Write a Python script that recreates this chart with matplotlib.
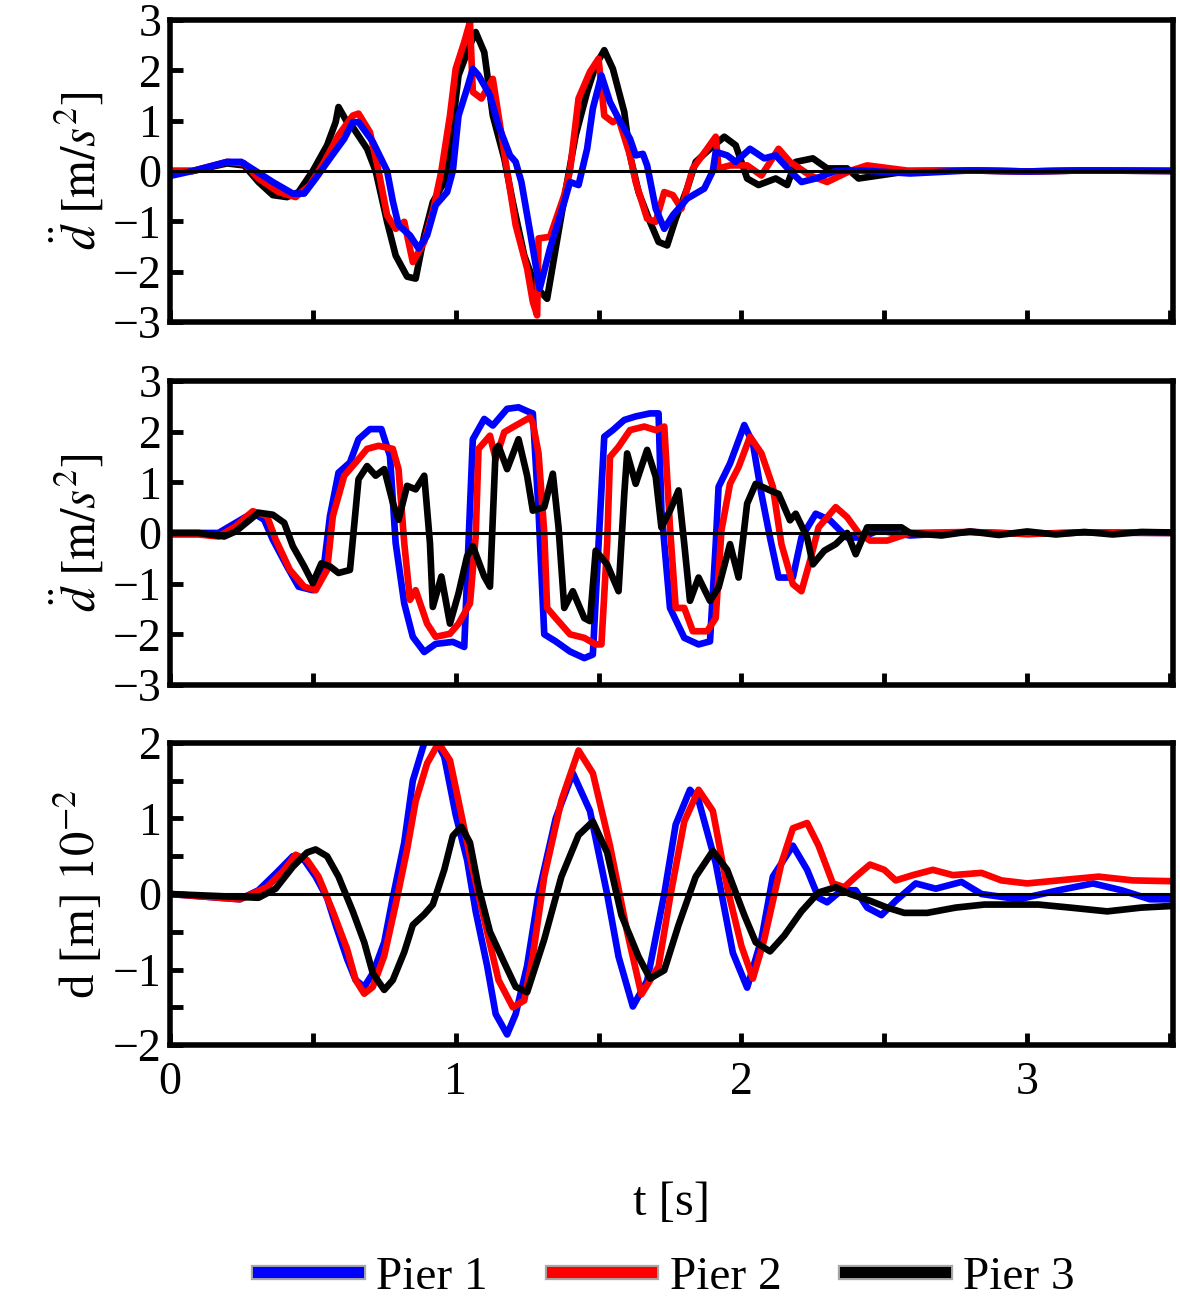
import matplotlib
matplotlib.use("Agg")
import matplotlib.pyplot as plt
import matplotlib.patheffects as pe
from matplotlib.lines import Line2D

plt.rcParams['font.family'] = ['Liberation Serif', 'DejaVu Serif']
plt.rcParams['mathtext.fontset'] = 'stix'

# ---- panel 1: acceleration (top) ----
top_t1 = [0, 0.08, 0.2, 0.25, 0.30, 0.36, 0.43, 0.47, 0.51, 0.56, 0.61, 0.64, 0.66, 0.71, 0.76, 0.78,
          0.80, 0.84, 0.87, 0.90, 0.93, 0.97, 0.99, 1.01, 1.04, 1.06, 1.08, 1.12, 1.15, 1.19, 1.21, 1.23,
          1.26, 1.294, 1.33, 1.38, 1.40, 1.43, 1.46, 1.48, 1.51, 1.54, 1.57, 1.61, 1.63, 1.655, 1.67,
          1.70, 1.73, 1.76, 1.81, 1.87, 1.90, 1.91, 1.95, 1.98, 2.03, 2.08, 2.12, 2.17, 2.21, 2.26, 2.33,
          2.42, 2.59, 2.8, 3.0, 3.2, 3.5]
top_v1 = [-0.1, 0, 0.18, 0.18, 0, -0.22, -0.45, -0.45, -0.15, 0.25, 0.64, 0.97, 0.97, 0.58, 0, -0.6,
          -1.08, -1.28, -1.54, -1.28, -0.68, -0.42, 0, 1.1, 1.64, 2.03, 1.9, 1.5, 0.9, 0.31, 0.18, -0.22,
          -1.2, -2.34, -1.54, -0.62, -0.22, -0.28, 0.44, 1.24, 1.9, 1.37, 1.04, 0.64, 0.31, 0.34, 0.11,
          -0.75, -1.15, -0.88, -0.55, -0.35, 0, 0.38, 0.31, 0.18, 0.44, 0.25, 0.31, 0, -0.22, -0.15, 0,
          0.01, -0.05, 0.01, -0.01, 0.01, 0]

top_t2 = [0, 0.08, 0.2, 0.26, 0.31, 0.38, 0.44, 0.49, 0.54, 0.59, 0.64, 0.66, 0.70, 0.73, 0.76, 0.79,
          0.82, 0.85, 0.89, 0.92, 0.95, 0.98, 1.00, 1.03, 1.05, 1.06, 1.09, 1.13, 1.15, 1.18, 1.21, 1.25,
          1.27, 1.285, 1.29, 1.33, 1.38, 1.40, 1.43, 1.47, 1.50, 1.52, 1.55, 1.57, 1.61, 1.63, 1.67, 1.70,
          1.73, 1.76, 1.79, 1.83, 1.88, 1.91, 1.92, 1.96, 2.02, 2.07, 2.13, 2.17, 2.24, 2.30, 2.38, 2.44,
          2.59, 2.8, 3.0, 3.2, 3.5]
top_v2 = [0, 0, 0.18, 0.15, -0.15, -0.42, -0.52, -0.28, 0.18, 0.71, 1.1, 1.14, 0.77, 0, -0.88, -1.15,
          -1.01, -1.81, -1.41, -0.81, 0, 1.1, 2.03, 2.56, 2.96, 1.57, 1.44, 1.83, 1.1, 0, -1.08, -1.94,
          -2.6, -2.87, -1.34, -1.31, -0.48, 0, 1.44, 1.97, 2.23, 1.1, 0.97, 1.04, 0.31, -0.22, -0.95, -1.01,
          -0.42, -0.48, -0.75, 0.05, 0.44, 0.68, 0.05, 0.11, 0.11, -0.09, 0.44, 0.18, -0.09, -0.22, 0, 0.11,
          0, 0.01, -0.01, 0.01, 0]

top_t3 = [0, 0.08, 0.2, 0.26, 0.31, 0.36, 0.41, 0.45, 0.50, 0.55, 0.58, 0.59, 0.62, 0.64, 0.69, 0.72,
          0.76, 0.79, 0.83, 0.86, 0.89, 0.92, 0.96, 0.98, 1.01, 1.05, 1.07, 1.10, 1.13, 1.17, 1.20, 1.24,
          1.28, 1.32, 1.35, 1.39, 1.42, 1.46, 1.49, 1.52, 1.55, 1.59, 1.61, 1.64, 1.68, 1.71, 1.74, 1.77,
          1.81, 1.84, 1.89, 1.94, 1.98, 2.02, 2.06, 2.12, 2.16, 2.19, 2.25, 2.30, 2.37, 2.41, 2.59, 2.8,
          3.0, 3.2, 3.5]
top_v3 = [0, 0, 0.15, 0.11, -0.22, -0.48, -0.52, -0.42, 0, 0.51, 0.97, 1.27, 0.97, 0.87, 0.44, 0,
          -1.01, -1.68, -2.1, -2.14, -1.28, -0.62, -0.22, 0.44, 1.9, 2.5, 2.76, 2.36, 1.1, 0.25, -0.62, -1.68,
          -2.3, -2.54, -1.54, -0.22, 0.71, 1.57, 2.1, 2.4, 2.03, 1.17, 0.31, -0.42, -1.01, -1.41, -1.48, -0.95,
          -0.35, 0.18, 0.44, 0.68, 0.51, -0.15, -0.28, -0.15, -0.28, 0.18, 0.25, 0.05, 0.05, -0.15, 0, 0.01,
          -0.01, 0.01, 0]

# ---- panel 2: acceleration (middle) ----
mid_t1 = [0, 0.10, 0.17, 0.23, 0.29, 0.33, 0.36, 0.41, 0.45, 0.50, 0.54, 0.56, 0.59, 0.63, 0.66, 0.70,
          0.74, 0.77, 0.79, 0.82, 0.85, 0.89, 0.93, 0.99, 1.03, 1.04, 1.06, 1.10, 1.13, 1.18, 1.22, 1.26,
          1.27, 1.29, 1.31, 1.35, 1.40, 1.45, 1.48, 1.50, 1.52, 1.55, 1.59, 1.63, 1.68, 1.71, 1.72, 1.75,
          1.80, 1.85, 1.89, 1.91, 1.92, 1.96, 2.01, 2.04, 2.07, 2.10, 2.13, 2.18, 2.21, 2.26, 2.31, 2.37,
          2.42, 2.48, 2.59, 2.8, 3.0, 3.2, 3.5]
mid_v1 = [0, 0, 0, 0.2, 0.4, 0.26, -0.13, -0.66, -1.06, -1.13, -0.6, 0.33, 1.19, 1.39, 1.85, 2.05,
          2.05, 1.52, -0.2, -1.39, -2.05, -2.35, -2.19, -2.15, -2.25, -0.86, 1.85, 2.25, 2.12, 2.45, 2.48, 2.38,
          2.36, 0.44, -2.0, -2.14, -2.34, -2.47, -2.4, -0.22, 1.9, 2.03, 2.23, 2.3, 2.36, 2.36, 0.44, -1.48,
          -2.07, -2.2, -2.14, -0.22, 0.91, 1.37, 2.13, 1.77, 0.77, -0.09, -0.88, -0.88, -0.09, 0.38, 0.25, -0.09,
          -0.09, 0.05, -0.05, 0.02, -0.02, 0.01, 0]

mid_t2 = [0, 0.10, 0.17, 0.23, 0.29, 0.34, 0.37, 0.42, 0.47, 0.51, 0.55, 0.57, 0.61, 0.65, 0.69, 0.73,
          0.78, 0.80, 0.82, 0.84, 0.86, 0.90, 0.93, 0.98, 1.01, 1.05, 1.07, 1.08, 1.12, 1.14, 1.17, 1.21,
          1.26, 1.27, 1.29, 1.31, 1.32, 1.35, 1.40, 1.45, 1.49, 1.51, 1.53, 1.54, 1.57, 1.61, 1.66, 1.70,
          1.73, 1.75, 1.77, 1.80, 1.83, 1.88, 1.91, 1.93, 1.96, 1.99, 2.03, 2.07, 2.11, 2.14, 2.18, 2.21,
          2.24, 2.27, 2.33, 2.37, 2.41, 2.45, 2.51, 2.59, 2.8, 3.0, 3.2, 3.5]
mid_v2 = [-0.03, -0.03, -0.07, 0.13, 0.43, 0.33, -0.13, -0.73, -1.06, -1.13, -0.73, 0.33, 1.13, 1.39, 1.66, 1.72,
          1.66, 1.26, -0.2, -1.32, -1.13, -1.79, -2.05, -1.99, -1.79, -1.39, -0.07, 1.66, 1.92, 1.46, 1.99, 2.12,
          2.28, 2.17, 1.57, 0, -1.48, -1.68, -2.0, -2.07, -2.2, -2.2, -0.22, 1.5, 1.7, 2.03, 2.1, 2.03,
          2.1, 0.11, -1.48, -1.48, -1.94, -1.94, -1.68, 0.05, 0.97, 1.3, 1.9, 1.57, 0.91, -0.22, -1.01, -1.15,
          -0.55, 0.11, 0.51, 0.31, 0, -0.15, -0.15, 0, 0.02, -0.02, 0.01, 0]

mid_t3 = [0, 0.10, 0.19, 0.23, 0.28, 0.31, 0.36, 0.40, 0.43, 0.47, 0.50, 0.53, 0.56, 0.59, 0.63, 0.65,
          0.66, 0.69, 0.72, 0.75, 0.78, 0.80, 0.83, 0.86, 0.89, 0.91, 0.92, 0.95, 0.98, 1.01, 1.04, 1.06,
          1.10, 1.12, 1.14, 1.15, 1.18, 1.22, 1.25, 1.27, 1.31, 1.34, 1.36, 1.38, 1.41, 1.45, 1.47, 1.49,
          1.53, 1.57, 1.59, 1.60, 1.63, 1.67, 1.70, 1.72, 1.75, 1.78, 1.80, 1.82, 1.85, 1.89, 1.92, 1.96,
          1.99, 2.02, 2.05, 2.10, 2.13, 2.17, 2.19, 2.23, 2.25, 2.29, 2.33, 2.37, 2.40, 2.44, 2.50, 2.56,
          2.59, 2.7, 2.8, 2.9, 3.0, 3.1, 3.2, 3.3, 3.4, 3.5]
mid_v3 = [0, 0, -0.07, 0.03, 0.26, 0.4, 0.36, 0.2, -0.26, -0.66, -0.99, -0.6, -0.66, -0.79, -0.73, 0.46,
          1.06, 1.32, 1.13, 1.26, 0.6, 0.26, 0.93, 0.86, 1.13, -0.2, -1.46, -0.86, -1.79, -1.19, -0.46, -0.26,
          -0.86, -1.06, 1.66, 1.72, 1.26, 1.85, 1.13, 0.44, 0.51, 1.17, 0.11, -1.48, -1.15, -1.68, -1.74, -0.35,
          -0.62, -1.15, 0.77, 1.57, 0.97, 1.64, 1.11, 0.11, 0.44, 0.84, -0.22, -1.34, -0.88, -1.34, -1.08, -0.22,
          -0.88, 0.58, 0.97, 0.84, 0.77, 0.25, 0.38, -0.09, -0.62, -0.35, -0.22, 0, -0.42, 0.11, 0.11, 0.11,
          0, -0.05, 0.03, -0.04, 0.03, -0.03, 0.02, -0.03, 0.02, 0.01]

# ---- panel 3: displacement (bottom), units 1e-2 m ----
bot_t1 = [0, 0.245, 0.31, 0.37, 0.43, 0.47, 0.51, 0.55, 0.58, 0.62, 0.65, 0.68, 0.71, 0.75, 0.78, 0.82,
          0.85, 0.89, 0.92, 0.96, 1.00, 1.04, 1.07, 1.11, 1.14, 1.18, 1.21, 1.25, 1.29, 1.35, 1.41, 1.47,
          1.53, 1.57, 1.62, 1.67, 1.73, 1.77, 1.82, 1.85, 1.91, 1.97, 2.02, 2.07, 2.11, 2.18, 2.23, 2.27,
          2.30, 2.35, 2.40, 2.44, 2.49, 2.54, 2.61, 2.68, 2.77, 2.84, 2.97, 3.11, 3.23, 3.33, 3.43, 3.5]
bot_v1 = [0, -0.07, 0.05, 0.27, 0.5, 0.45, 0.23, -0.05, -0.41, -0.86, -1.14, -1.23, -1.05, -0.64, -0.05, 0.68,
          1.5, 2.0, 2.1, 1.82, 1.05, 0.45, -0.23, -0.95, -1.59, -1.86, -1.59, -0.95, 0, 1.0, 1.6, 1.1,
          0, -0.83, -1.49, -1.15, 0, 0.92, 1.38, 1.24, 0.41, -0.78, -1.24, -0.6, 0.23, 0.64, 0.32, -0.05,
          -0.11, 0.05, 0.05, -0.18, -0.28, -0.09, 0.14, 0.07, 0.16, 0, -0.07, 0.05, 0.14, 0.05, -0.07, -0.07]

bot_t2 = [0, 0.245, 0.34, 0.40, 0.44, 0.48, 0.52, 0.57, 0.62, 0.65, 0.68, 0.71, 0.75, 0.79, 0.83, 0.86,
          0.90, 0.94, 0.98, 1.01, 1.06, 1.11, 1.15, 1.20, 1.24, 1.27, 1.31, 1.37, 1.43, 1.48, 1.54, 1.60,
          1.65, 1.71, 1.75, 1.80, 1.85, 1.90, 1.95, 2.00, 2.04, 2.08, 2.14, 2.18, 2.23, 2.27, 2.32, 2.36,
          2.40, 2.45, 2.50, 2.54, 2.60, 2.67, 2.74, 2.84, 2.91, 3.00, 3.11, 3.25, 3.37, 3.5]
bot_v2 = [0, -0.07, 0.09, 0.32, 0.52, 0.45, 0.23, -0.23, -0.73, -1.14, -1.32, -1.23, -0.82, -0.14, 0.59, 1.23,
          1.73, 2.0, 1.77, 1.23, 0.32, -0.5, -1.14, -1.5, -1.41, -0.82, 0.23, 1.24, 1.9, 1.6, 0.64, -0.5,
          -1.33, -0.96, -0.05, 0.96, 1.38, 1.1, 0.09, -0.69, -1.12, -0.6, 0.41, 0.87, 0.94, 0.64, 0.14, 0.09,
          0.23, 0.39, 0.32, 0.18, 0.25, 0.32, 0.25, 0.28, 0.18, 0.14, 0.18, 0.23, 0.18, 0.17]

bot_t3 = [0, 0.31, 0.37, 0.43, 0.48, 0.51, 0.55, 0.59, 0.64, 0.68, 0.71, 0.75, 0.78, 0.82, 0.85, 0.89,
          0.92, 0.96, 0.99, 1.02, 1.05, 1.08, 1.12, 1.17, 1.21, 1.25, 1.31, 1.37, 1.43, 1.48, 1.53, 1.58,
          1.64, 1.68, 1.73, 1.78, 1.84, 1.90, 1.95, 2.01, 2.05, 2.10, 2.15, 2.21, 2.27, 2.33, 2.38, 2.45,
          2.51, 2.57, 2.65, 2.75, 2.85, 3.04, 3.15, 3.28, 3.40, 3.5]
bot_v3 = [0, -0.05, 0.07, 0.36, 0.55, 0.59, 0.5, 0.23, -0.23, -0.64, -1.05, -1.27, -1.14, -0.77, -0.41, -0.27,
          -0.14, 0.32, 0.77, 0.89, 0.68, 0.09, -0.5, -0.91, -1.23, -1.3, -0.6, 0.23, 0.78, 0.96, 0.55, -0.28,
          -0.83, -1.12, -1.01, -0.41, 0.23, 0.57, 0.32, -0.28, -0.64, -0.76, -0.55, -0.23, 0.02, 0.09, 0, -0.09,
          -0.18, -0.25, -0.25, -0.18, -0.14, -0.14, -0.18, -0.23, -0.18, -0.16]

piers = ['Pier 1', 'Pier 2', 'Pier 3']
colors = ['#0000ff', '#ff0000', '#000000']

fig = plt.figure(figsize=(11.8, 12.98), dpi=100)
L, W = 0.144, 0.850
ax1 = fig.add_axes([L, 0.752, W, 0.2326])
ax2 = fig.add_axes([L, 0.4723, W, 0.2342])
ax3 = fig.add_axes([L, 0.1949, W, 0.2327])

# draw order: blue on top in the first panel, black on top in the others
panels = [
    (ax1, [(top_t3, top_v3, 2), (top_t2, top_v2, 1), (top_t1, top_v1, 0)]),
    (ax2, [(mid_t1, mid_v1, 0), (mid_t2, mid_v2, 1), (mid_t3, mid_v3, 2)]),
    (ax3, [(bot_t1, bot_v1, 0), (bot_t2, bot_v2, 1), (bot_t3, bot_v3, 2)]),
]
for ax, series in panels:
    for t, v, k in series:
        ax.plot(t, v, color=colors[k], lw=4.8)
    ax.axhline(0, color='black', lw=2.2, zorder=5)
    ax.set_xlim(0, 3.51)
    ax.set_xticks([0, 0.5, 1, 1.5, 2, 2.5, 3, 3.5])
    ax.tick_params(direction='in', length=9, width=3.5, labelsize=33, pad=6,
                   top=False, right=False)
    for s in ax.spines.values():
        s.set_linewidth(4)

for ax in (ax1, ax2):
    ax.set_ylim(-3, 3)
    ax.set_yticks([-3, -2, -1, 0, 1, 2, 3])
    ax.set_xticklabels([])
    ax.set_ylabel(r'$\ddot{d}\ [\mathrm{m}/s^2]$', fontsize=35, labelpad=6)

ax3.set_ylim(-2, 2)
ax3.set_yticks([-2, -1.5, -1, -0.5, 0, 0.5, 1, 1.5, 2])
ax3.set_yticklabels(['\u22122', '', '\u22121', '', '0', '', '1', '', '2'])
ax3.set_xticklabels(['0', '', '1', '', '2', '', '3', ''])
ax3.tick_params(axis='x', pad=12)
ax3.set_ylabel(r'd [m] $10^{-2}$', fontsize=35, labelpad=6)
ax3.set_xlabel('t [s]', fontsize=35, labelpad=55)

handles = [Line2D([0], [0], color=c, lw=8,
                  path_effects=[pe.Stroke(linewidth=11, foreground='#a8a8a8'), pe.Normal()])
           for c in colors]
fig.legend(handles, piers, loc='center', bbox_to_anchor=(0.565, 0.016), ncol=3,
           frameon=False, fontsize=34, handlelength=2.1, columnspacing=1.35, handletextpad=0.4)

fig.savefig('out.png', dpi=100)
